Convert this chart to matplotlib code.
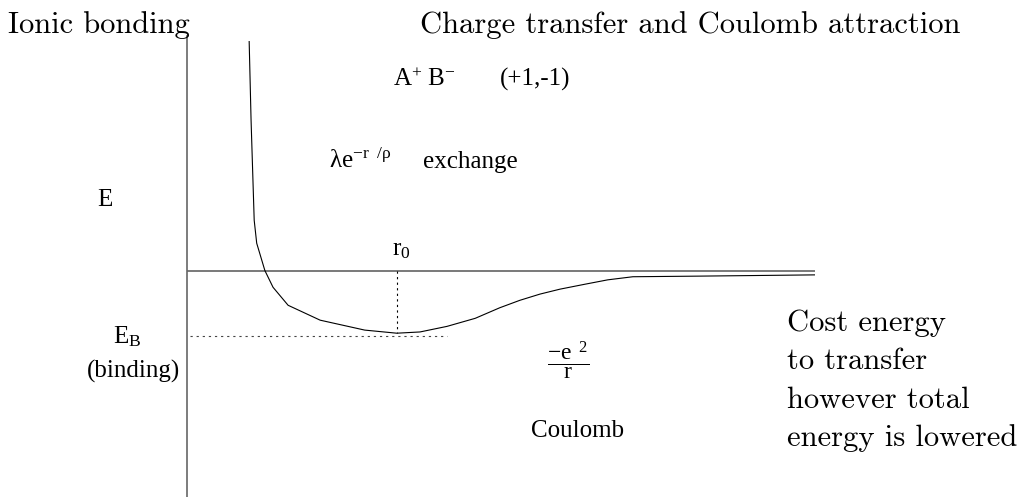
import matplotlib
matplotlib.use("Agg")
import matplotlib.pyplot as plt
import numpy as np

# potential curve (r in arbitrary units, E in arbitrary units)
r_curve = [0.99, 1.02, 1.07, 1.11, 1.24, 1.37, 1.61, 2.12, 2.83, 3.34, 3.71,
           4.14, 4.59, 4.98, 5.30, 5.62, 5.94, 6.34, 6.70, 7.10, 8.17, 10.0]
E_curve = [3.69, 2.43, 0.81, 0.44, 0.0, -0.27, -0.56, -0.80, -0.96, -1.01, -0.99,
           -0.90, -0.77, -0.60, -0.48, -0.38, -0.30, -0.22, -0.15, -0.10, -0.09, -0.07]
r0 = 3.34
E_min = -1.01
E_B = -1.06
r_dot_end = 4.14
r_max = 10.0

cm = 'cmr10'
tm = 'Liberation Serif'
plt.rcParams['mathtext.fontset'] = 'custom'
plt.rcParams['mathtext.rm'] = tm
plt.rcParams['mathtext.it'] = tm + ':italic'

W, H = 1022, 497
fig = plt.figure(figsize=(W / 100, H / 100), dpi=100)

# main axes: only the left spine is kept as the energy axis
ax = fig.add_axes([187 / W, 0, (815 - 187) / W, (H - 36) / H])
ax.set_xlim(0, r_max)
ax.set_ylim(-3.65, 3.78)
for s in ['top', 'right', 'bottom']:
    ax.spines[s].set_visible(False)
ax.spines['left'].set_color('#666666')
ax.spines['left'].set_linewidth(1.2)
ax.set_xticks([])
ax.set_yticks([])
ax.patch.set_alpha(0)

ax.axhline(0, color='#555555', lw=1.1)
ax.plot(r_curve, E_curve, color='black', lw=0.8)
ax.plot([r0, r0], [0, E_min], color='black', lw=0.8, ls=(0, (2, 3)))
ax.plot([0.05, r_dot_end], [E_B, E_B], color='#444444', lw=0.8, ls=(0, (2, 3.5)))

# overlay for the labels, in pixel units
tx = fig.add_axes([0, 0, 1, 1])
tx.set_xlim(0, W)
tx.set_ylim(H, 0)
tx.axis('off')
tx.patch.set_alpha(0)

tx.text(8, 33, 'Ionic bonding', family=cm, fontsize=22, va='baseline')
tx.text(420, 33, 'Charge transfer and Coulomb attraction', family=cm, fontsize=22,
        va='baseline')

tx.text(393, 86, r'$\mathrm{A}^{+}\ \mathrm{B}^{-}$', fontsize=18, va='baseline')
tx.text(500, 86, '(+1,-1)', family=tm, fontsize=18, va='baseline')
tx.text(329, 168, r'$\mathrm{λe}^{\mathrm{-r\ \ /ρ}}$', fontsize=18, va='baseline')
tx.text(423, 168, 'exchange', family=tm, fontsize=18, va='baseline')
tx.text(97, 206, 'E', family=tm, fontsize=18, va='baseline')
tx.text(392, 255, r'$\mathrm{r}_{0}$', fontsize=18, va='baseline')
tx.text(113, 343, r'$\mathrm{E}_{\mathrm{B}}$', fontsize=18, va='baseline')
tx.text(133, 378, '(binding)', family=tm, fontsize=18, va='baseline', ha='center')
tx.text(568, 360, r'$\dfrac{\mathrm{-e}^{\ \ 2}}{\mathrm{r}}$', fontsize=17,
        va='center', ha='center')
tx.text(578, 437, 'Coulomb', family=tm, fontsize=18, va='baseline', ha='center')

note = ['Cost energy', 'to transfer', 'however total', 'energy is lowered']
for i, line in enumerate(note):
    tx.text(787, 331 + i * 38.3, line, family=cm, fontsize=22, va='baseline')

fig.savefig('out.png', dpi=100)
